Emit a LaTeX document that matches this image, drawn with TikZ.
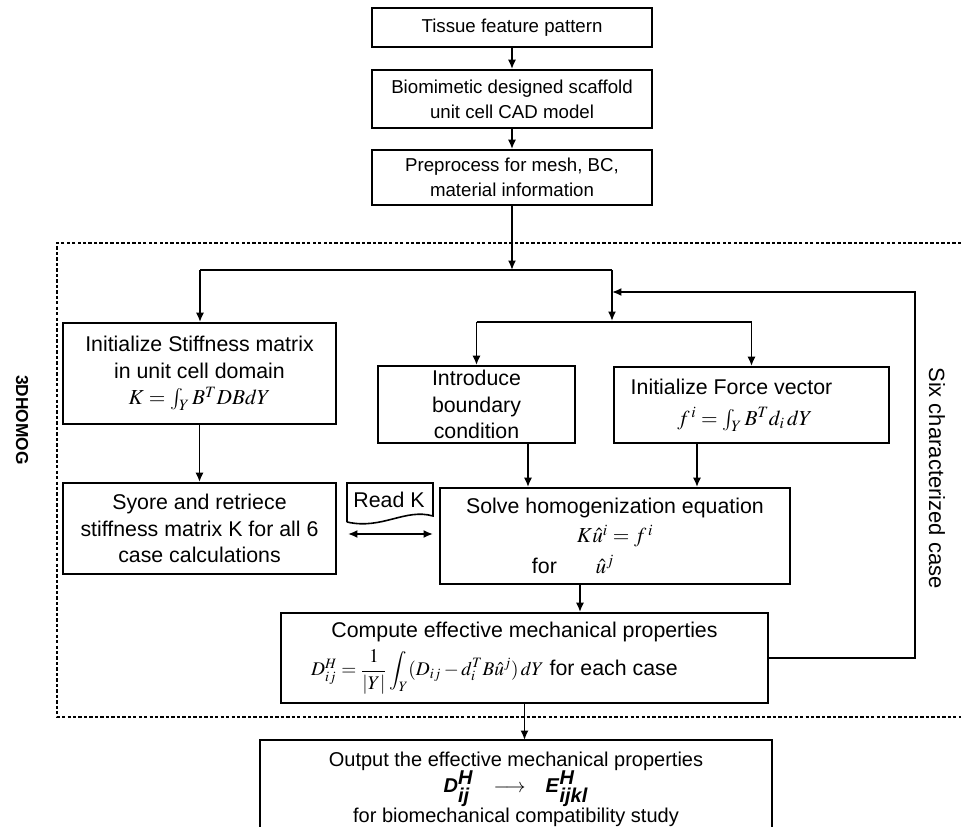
\documentclass[tikz,border=0pt]{standalone}
\usepackage{mathptmx}
\usepackage{fontspec}
\setmainfont{Liberation Sans}
\usetikzlibrary{arrows.meta}
\newcommand\bfit[1]{\textbf{\textit{#1}}}
\begin{document}
\begin{tikzpicture}[x=0.75pt,y=-0.75pt,
  font=\fontsize{16}{20}\selectfont,
  bx/.style 2 args={draw, line width=1.4pt, minimum width=#1*0.75pt, minimum height=#2*0.75pt, align=center, inner sep=0pt},
  topf/.style={font=\fontsize{14}{18.5}\selectfont},
  arr/.style={line width=1.3pt, -{Latex[length=7pt,width=6pt]}},
  darr/.style={line width=1.3pt, {Latex[length=7pt,width=6pt]}-{Latex[length=7pt,width=6pt]}},
  ln/.style={line width=1.3pt},
  dots/.style={line width=1.8pt, dash pattern=on 2.5pt off 1.6pt},
]
\useasboundingbox (0,0) rectangle (961,827);

% top boxes
\node[bx={280}{39}, topf] (tissue) at (512,27.5) {Tissue feature pattern};
\node[bx={280}{58}, topf] (cad) at (512,99) {Biomimetic designed scaffold\\unit cell CAD model};
\node[bx={280}{55}, topf] (pre) at (512,177.5) {Preprocess for mesh, BC,\\material information};

% inner boxes
\node[bx={273}{101}] (stiff) at (199.5,373.5) {Initialize Stiffness matrix\\in unit cell domain\\$K=\int_Y B^T DBdY$};
\node[bx={197}{77}] (intro) at (476.5,404.5) {Introduce\\boundary\\condition};
\node[bx={275}{76}] (force) at (751.5,405) {Initialize Force vector\hspace*{30pt}\\[3pt]$f^{\,i}=\int_Y B^T d_i\,dY$\hspace*{10pt}};
\node[bx={273}{91}] (syore) at (199.5,528.5) {Syore and retriece\\stiffness matrix K for all 6\\case calculations};
\node[inner sep=0pt] (readk) at (389,500) {Read K};
\node[bx={350}{96}] (solve) at (615,536) {Solve homogenization equation\\[2pt]$K\hat u^i = f^{\,i}$\\[3pt]for\hspace{29pt}$\hat u^j$\hspace*{63pt}};
\node[bx={487}{90}] (comp) at (524.5,658) {Compute effective mechanical properties\\[5pt]{\fontsize{14.5}{16}\selectfont$D^H_{ij}=\displaystyle\frac{1}{|Y|}\int_Y(D_{ij}-d_i^T B\hat u^j)\,dY$} for each case\hspace*{45pt}};

% output box (cut by the page bottom)
\node[minimum width=512*0.75pt, minimum height=87*0.75pt, anchor=north, inner sep=0pt] (output) at (516,740) {};
\draw[line width=1.4pt] (output.south west) -- (output.north west) -- (output.north east) -- (output.south east);
\node[align=center, inner sep=0pt, font=\fontsize{15}{19.8}\selectfont] (outtext) at (516,789)
  {Output the effective mechanical properties\\
   $\bfit{D}^{\bfit{H}}_{\bfit{ij}}$\quad$\longrightarrow$\quad$\bfit{E}^{\bfit{H}}_{\bfit{ijkl}}$\\
   for biomechanical compatibility study};

% Read K document shape
\draw[line width=1.2pt] (347,522) -- (347,483) -- (433,483) -- (433,516) .. controls (405,508) and (382,530) .. (347,522);

% dotted frame
\draw[dots] (961,243) -- (57,243) -- (57,717) -- (961,717);

% side labels
\node[rotate=-90, font=\bfseries\fontsize{13}{15}\selectfont] (homog) at (22,420) {3DHOMOG};
\node[rotate=-90, font=\fontsize{16.5}{18}\selectfont] (six) at (937,478) {Six characterized case};

% helper coordinates
\coordinate (j1) at (512,270);
\coordinate (jl) at (200,270);
\coordinate (jr) at (612,270);
\coordinate (j2) at (612,321);
\coordinate (jbl) at (476.5,322);
\coordinate (jbr) at (751.5,322);
\coordinate (xa) at (528,0);
\coordinate (xb) at (697,0);
\coordinate (xc) at (580,0);
\coordinate (xd) at (524.5,0);
\coordinate (da) at (348,534);
\coordinate (db) at (433,534);
\coordinate (lp1) at (915,658);
\coordinate (lp2) at (915,292);
\coordinate (lp3) at (612,292);

% connectors
\draw[arr] (tissue) -- (cad);
\draw[arr] (cad) -- (pre);
\draw[arr] (pre) -- (j1);
\draw[ln] (jl) -- (jr);
\draw[arr] (jl) -- (jl |- stiff.north);
\draw[arr] (jr) -- (j2);
\draw[ln] (jbl) -- (jbr);
\draw[arr] (jbl) -- (intro.north);
\draw[arr] (jbr) -- (force.north);
\draw[arr] (stiff) -- (syore);
\draw[arr] (intro.south -| xa) -- (solve.north -| xa);
\draw[arr] (force.south -| xb) -- (solve.north -| xb);
\draw[darr] (da) -- (db);
\draw[arr] (solve.south -| xc) -- (comp.north -| xc);
\draw[arr] (comp.south) -- (output.north -| xd);
\draw[arr] (comp.east) -- (lp1) -- (lp2) -- (lp3);
\end{tikzpicture}
\end{document}
